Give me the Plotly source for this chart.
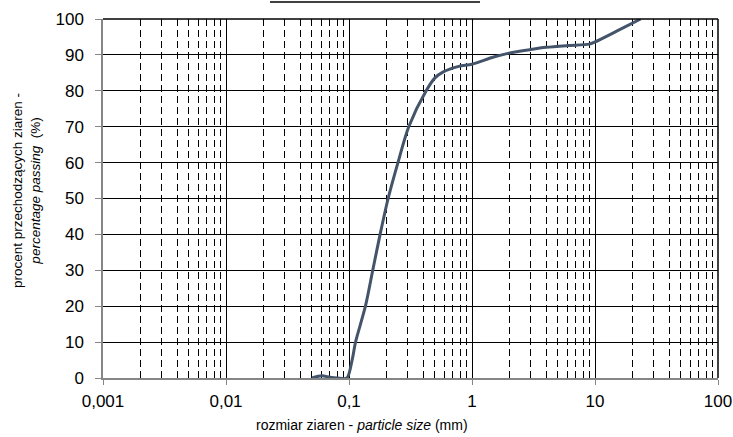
import plotly.graph_objects as go

# Data
particle_size_mm = [0.05, 0.06, 0.07, 0.08, 0.096, 0.106, 0.113, 0.136, 0.156, 0.179, 0.208, 0.25,
                    0.306, 0.424, 0.5, 0.58, 0.78, 1.0, 1.5, 2.0, 3.0, 4.0, 6.0, 9.0, 10.0,
                    15.0, 23.5]
percent_passing = [0.0, 0.6, 0.2, 0.0, 0.0, 5.0, 10.0, 20.0, 30.0, 40.0, 50.0, 60.0,
                   70.0, 80.0, 83.6, 85.2, 86.8, 87.4, 89.4, 90.5, 91.5, 92.1, 92.6, 93.0, 93.6,
                   96.6, 100.0]
x_tick_vals = [0.001, 0.01, 0.1, 1, 10, 100]
x_tick_text = ["0,001", "0,01", "0,1", "1", "10", "100"]
y_tick_vals = [0, 10, 20, 30, 40, 50, 60, 70, 80, 90, 100]

FONT = "Liberation Sans, Arial, sans-serif"
L, R, T, B = 103, 15, 19, 59
PW, PH = 733 - L - R, 437 - T - B

fig = go.Figure()
fig.add_trace(go.Scatter(
    x=particle_size_mm, y=percent_passing, mode="lines",
    line=dict(color="#44546A", width=3, shape="spline", smoothing=0.8),
    showlegend=False, hoverinfo="skip",
))

fig.update_layout(
    width=733, height=437,
    margin=dict(l=L, r=R, t=T, b=B, autoexpand=False),
    paper_bgcolor="white", plot_bgcolor="white",
    font=dict(family=FONT, color="black", size=17),
    shapes=[
        dict(type="line", xref="paper", yref="paper", x0=0, x1=1, y0=1, y1=1,
             line=dict(color="black", width=1.5)),
        dict(type="line", xref="paper", yref="paper", x0=1, x1=1, y0=0, y1=1,
             line=dict(color="black", width=1.5)),
        dict(type="line", xref="paper", yref="paper", x0=(270 - L) / PW, x1=(480 - L) / PW,
             y0=1 + 17 / PH, y1=1 + 17 / PH, line=dict(color="black", width=1.5)),
    ],
    annotations=[
        dict(text="rozmiar ziaren - <i>particle size</i> (mm)", xref="paper", yref="paper",
             x=(362 - L) / PW, y=-(425 - (T + PH)) / PH, xanchor="center", yanchor="middle",
             showarrow=False, font=dict(size=14)),
        dict(text="procent przechodzących ziaren -<br><i>percentage passing</i>  (%)",
             xref="paper", yref="paper", textangle=-90,
             x=-(L - 26) / PW, y=(T + PH - 191) / PH, xanchor="center", yanchor="middle",
             showarrow=False, font=dict(size=13.5)),
    ],
)

fig.update_xaxes(
    type="log", range=[-3, 2], automargin=False,
    tickvals=x_tick_vals, ticktext=x_tick_text,
    showgrid=True, gridcolor="black", gridwidth=1,
    showline=True, linecolor="#868686", linewidth=1.5,
    ticks="outside", ticklen=5, tickcolor="#868686",
    tickfont=dict(size=17), ticklabelstandoff=2,
    minor=dict(dtick="D1", showgrid=True, gridcolor="black", gridwidth=1,
               griddash="7px,4px", ticks=""),
    zeroline=False,
)
fig.update_yaxes(
    range=[0, 100], tickvals=y_tick_vals, automargin=False,
    showgrid=True, gridcolor="black", gridwidth=1,
    showline=True, linecolor="#868686", linewidth=1.5,
    ticks="outside", ticklen=6, tickcolor="#868686",
    tickfont=dict(size=17), ticklabelstandoff=8,
    zeroline=False,
)

fig.write_html("out.html", config={"displayModeBar": False},
               post_script="document.body.style.margin='0';")
